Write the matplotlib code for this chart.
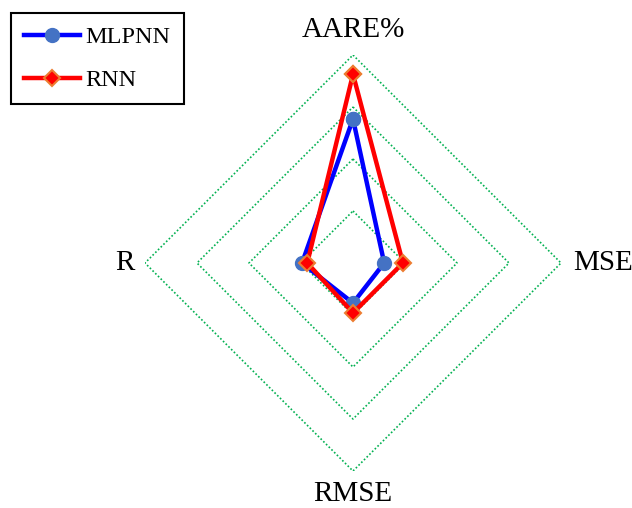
import numpy as np
import matplotlib
matplotlib.use("Agg")
import matplotlib.pyplot as plt
from matplotlib import font_manager

categories = ["AARE%", "MSE", "RMSE", "R"]
mlpnn = [2.77, 0.60, 0.77, 0.98]
rnn = [3.63, 0.96, 0.96, 0.88]
ring_levels = [1, 2, 3, 4]

names = {f.name for f in font_manager.fontManager.ttflist}
serif = next((c for c in ["Liberation Serif", "Times New Roman", "Nimbus Roman", "DejaVu Serif"] if c in names), "serif")

fig = plt.figure(figsize=(6.32, 5.08), dpi=100)
W, H = 632, 508
cx, cy, R = 353, 263, 208
ax = fig.add_axes([(cx - R) / W, (H - cy - R) / H, 2 * R / W, 2 * R / H], projection="polar")
ax.set_theta_offset(np.pi / 2)
ax.set_theta_direction(-1)
ax.set_ylim(0, 4)

n = len(categories)
angles = np.linspace(0, 2 * np.pi, n, endpoint=False).tolist()
ang_c = angles + angles[:1]

for lv in ring_levels:
    ax.plot(ang_c, [lv] * (n + 1), color="#00B050", lw=1.2, ls=(0, (1, 1.3)), zorder=1)

ax.plot(ang_c, mlpnn + mlpnn[:1], color="#0000FF", lw=3.2, marker="o", ms=10,
        mfc="#4472C4", mec="#4472C4", label="MLPNN", zorder=3)
ax.plot(ang_c, rnn + rnn[:1], color="#FF0000", lw=3.2, marker="D", ms=8,
        mfc="#FF0000", mec="#ED7D31", mew=1.5, label="RNN", zorder=4)

ax.grid(False)
ax.spines["polar"].set_visible(False)
ax.set_xticks([])
ax.set_yticks([])

font = dict(family=serif, size=21)
label_r = [4.48, 4.8, 4.45, 4.38]
for a, c, r in zip(angles, categories, label_r):
    ax.text(a, r, c, ha="center", va="center", clip_on=False, **font)

leg = ax.legend(loc="upper left", bbox_to_anchor=(11 / W, 1 - 13 / H), bbox_transform=fig.transFigure,
                borderaxespad=0, fancybox=False, edgecolor="black", framealpha=1,
                prop=dict(family=serif, size=17.5), handlelength=2.3,
                handletextpad=0.2, labelspacing=0.85, borderpad=0.55)
leg.get_frame().set_linewidth(1.5)

fig.savefig("out.png", dpi=100)
